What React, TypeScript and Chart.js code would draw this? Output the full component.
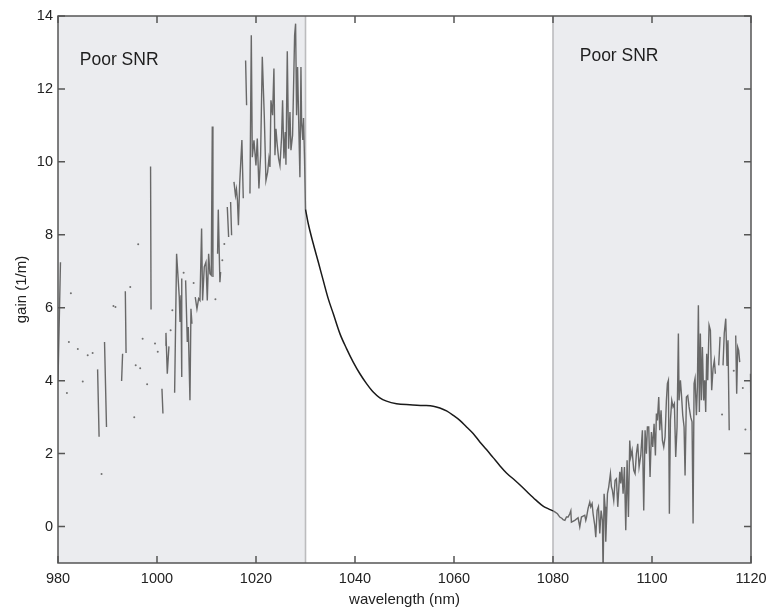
import React, { useEffect, useRef } from 'react';
import { Chart, registerables } from 'chart.js';

Chart.register(...registerables);

// ---- axes ----
const xTicks = [980, 1000, 1020, 1040, 1060, 1080, 1100, 1120];
const yTicks = [0, 2, 4, 6, 8, 10, 12, 14];
const xTitle = 'wavelength (nm)';
const yTitle = 'gain (1/m)';

// ---- shaded "Poor SNR" bands ----
const bandRanges: [number, number][] = [[980, 1030], [1080, 1120]];
const bandLabel = 'Poor SNR';
const bandLabelAnchors: [number, number][] = [[984.4, 12.67], [1085.4, 12.77]];

// ---- data: [wavelength nm, gain 1/m]; null = gap ----
const noisyShort: [number, number | null][] = [
  [980.0, 4.0], [980.5, 7.25], [981.0, null], [981.8, 3.66], [982.0, null], [982.2, 5.06], [982.4, null],
  [982.6, 6.4], [983.0, null], [984.0, 4.87], [984.5, null], [985.0, 3.98], [985.5, null], [986.0, 4.7],
  [986.5, null], [987.0, 4.76], [987.5, null], [988.0, 4.31], [988.3, 2.46], [988.5, null], [988.8, 1.44],
  [989.0, null], [989.4, 5.06], [989.8, 2.73], [990.5, null], [991.2, 6.05], [991.4, null], [991.6, 6.02],
  [992.0, null], [992.85, 3.99], [993.05, 4.74], [993.3, null], [993.6, 6.45], [993.75, 4.76], [994.2, null],
  [994.6, 6.57], [995.0, null], [995.4, 3.0], [995.55, null], [995.7, 4.42], [996.0, null], [996.2, 7.74],
  [996.4, null], [996.6, 4.34], [996.8, null], [997.1, 5.15], [997.5, null], [998.0, 3.9], [998.3, null],
  [998.7, 9.87], [998.8, 5.95], [999.2, null], [999.6, 5.02], [999.9, null], [1000.15, 4.79], [1000.5, null],
  [1001.0, 3.78], [1001.2, 3.1], [1001.4, null], [1001.68, 4.97], [1001.81, 5.31], [1002.08, 4.19],
  [1002.41, 4.94], [1002.6, null], [1002.75, 5.38], [1002.9, null], [1003.1, 5.93], [1003.3, null],
  [1003.56, 3.67], [1003.96, 7.48], [1004.5, 6.29], [1004.65, 5.61], [1004.85, 6.34], [1004.95, 4.1],
  [1005.05, 6.8], [1005.2, null], [1005.38, 6.96], [1005.55, null], [1005.78, 6.75], [1006.12, 5.06],
  [1006.32, 5.47], [1006.66, 3.46], [1006.86, 5.97], [1007.06, 5.56], [1007.2, null], [1007.4, 6.68],
  [1007.55, null], [1007.73, 6.29], [1008.07, 5.97], [1008.41, 6.25], [1008.68, 6.2], [1009.01, 8.17],
  [1009.21, 6.2], [1009.55, 7.12], [1009.89, 7.25], [1010.16, 6.2], [1010.43, 7.48], [1010.69, 6.93],
  [1010.96, 6.89], [1011.17, 10.97], [1011.3, 6.84], [1011.5, null], [1011.8, 6.23], [1012.0, null],
  [1012.24, 7.48], [1012.38, 8.69], [1012.71, 6.7], [1012.85, 6.98], [1013.0, null], [1013.2, 7.3],
  [1013.4, null], [1013.6, 7.75], [1013.9, null], [1014.2, 8.76], [1014.47, 7.94], [1014.65, null],
  [1014.87, 8.9], [1015.07, 7.99], [1015.3, null], [1015.55, 9.45], [1015.85, 9.08], [1016.05, 9.25],
  [1016.25, 8.95], [1016.45, 8.26], [1016.7, 9.4], [1017.15, 10.6], [1017.43, 9.0], [1017.65, null],
  [1017.9, 12.78], [1018.1, 11.55], [1018.4, null], [1018.78, 9.13], [1019.05, 13.47], [1019.25, 10.13],
  [1019.59, 10.59], [1019.99, 9.9], [1020.26, 10.64], [1020.59, 9.27], [1020.93, 10.18], [1021.27, 12.88],
  [1021.67, 11.28], [1022.01, 9.49], [1022.35, 9.72], [1022.61, 10.09], [1022.82, 9.86], [1023.02, 11.69],
  [1023.35, 11.28], [1023.62, 12.56], [1023.83, 10.18], [1024.03, 10.91], [1024.3, 10.45], [1024.57, 10.09],
  [1024.84, 9.9], [1025.17, 10.68], [1025.37, 11.69], [1025.64, 10.09], [1025.91, 10.82], [1026.05, 9.92],
  [1026.32, 13.03], [1026.59, 10.36], [1026.86, 11.37], [1027.06, 10.32], [1027.39, 10.73], [1027.8, 13.47],
  [1028.0, 13.79], [1028.2, 11.28], [1028.4, 12.6], [1028.67, 10.82], [1028.87, 9.58], [1029.08, 12.6],
  [1029.21, 11.09], [1029.45, 10.6], [1029.6, 11.2], [1029.8, 10.1], [1030.0, 8.7],
];

const cleanGain: [number, number][] = [
  [1030.0, 8.7], [1030.55, 8.31], [1031.56, 7.76], [1032.57, 7.26], [1033.58, 6.75], [1034.59, 6.25],
  [1035.6, 5.84], [1036.95, 5.29], [1038.29, 4.88], [1039.64, 4.51], [1040.99, 4.19], [1042.33, 3.92],
  [1043.68, 3.69], [1045.02, 3.53], [1046.37, 3.44], [1048.39, 3.37], [1051.08, 3.34], [1053.77, 3.32],
  [1055.8, 3.3], [1057.14, 3.25], [1058.49, 3.17], [1059.83, 3.05], [1061.18, 2.91], [1062.53, 2.73],
  [1063.87, 2.55], [1065.22, 2.32], [1066.56, 2.11], [1067.91, 1.89], [1069.26, 1.67], [1070.6, 1.47],
  [1072.29, 1.27], [1073.5, 1.12], [1075.0, 0.92], [1076.5, 0.73], [1078.0, 0.56], [1079.0, 0.49],
  [1080.0, 0.43],
];

const noisyLong: [number, number | null][] = [
  [1080.0, 0.43], [1080.36, 0.4], [1080.9, 0.35], [1081.37, 0.26], [1081.84, 0.22], [1082.04, 0.19],
  [1082.4, 0.17], [1082.72, 0.26], [1083.05, 0.26], [1083.39, 0.35], [1083.6, 0.43], [1083.72, 0.12],
  [1084.4, 0.17], [1085.07, 0.24], [1085.41, -0.01], [1085.74, 0.26], [1086.42, 0.31], [1086.62, 0.17],
  [1086.75, 0.24], [1087.09, 0.5], [1087.43, 0.67], [1087.63, 0.54], [1087.9, 0.63], [1088.1, 0.35],
  [1088.44, 0.03], [1088.64, -0.29], [1088.91, 0.44], [1089.18, 0.54], [1089.45, -0.19], [1089.72, 0.44],
  [1089.98, 0.17], [1090.12, -1.3], [1090.32, 0.9], [1090.52, 0.54], [1090.66, -0.42], [1091.0, 0.9],
  [1091.26, 1.09], [1091.6, 1.45], [1091.8, 1.09], [1092.0, 0.99], [1092.27, 0.72], [1092.54, 1.27],
  [1092.81, 1.31], [1093.08, 0.54], [1093.49, 1.5], [1093.69, 1.18], [1093.89, 1.63], [1094.16, 0.9],
  [1094.43, 1.63], [1094.7, -0.1], [1094.97, 1.82], [1095.24, 0.26], [1095.5, 2.36], [1095.71, 1.91],
  [1095.98, 2.09], [1096.31, 1.54], [1096.58, 1.45], [1096.85, 2.0], [1097.12, 2.27], [1097.39, 1.63],
  [1097.73, 1.95], [1098.06, 2.64], [1098.33, 0.44], [1098.6, 2.64], [1098.87, 2.0], [1099.07, 2.73],
  [1099.34, 2.73], [1099.61, 1.36], [1099.88, 2.59], [1100.15, 2.18], [1100.42, 2.82], [1100.69, 1.95],
  [1100.89, 3.1], [1101.09, 2.91], [1101.36, 3.55], [1101.56, 2.64], [1101.83, 3.19], [1102.1, 2.36],
  [1102.37, 2.18], [1102.64, 2.46], [1102.91, 3.46], [1103.11, 3.92], [1103.31, 4.01], [1103.51, 0.35],
  [1103.72, 2.91], [1103.99, 3.46], [1104.25, 3.28], [1104.52, 3.37], [1104.79, 1.91], [1105.06, 2.73],
  [1105.33, 5.29], [1105.47, 3.46], [1105.74, 4.01], [1105.94, 3.64], [1106.21, 3.05], [1106.48, 2.73],
  [1106.68, 1.4], [1106.95, 3.55], [1107.22, 3.59], [1107.49, 3.28], [1107.82, 3.0], [1108.09, 2.87],
  [1108.3, 0.08], [1108.5, 3.92], [1108.7, 4.06], [1108.97, 3.05], [1109.17, 3.83], [1109.37, 6.07],
  [1109.57, 3.14], [1109.77, 5.29], [1109.98, 3.46], [1110.18, 4.92], [1110.45, 3.46], [1110.65, 4.01],
  [1110.85, 3.14], [1111.05, 4.74], [1111.26, 4.01], [1111.53, 5.52], [1111.8, 5.38], [1112.06, 3.74],
  [1112.33, 4.33], [1112.6, 4.56], [1112.8, 4.19], [1113.1, null], [1113.48, 4.42], [1113.75, 5.2],
  [1113.95, null], [1114.15, 3.07], [1114.25, null], [1114.35, 4.42], [1114.6, 5.3], [1114.9, 5.7],
  [1115.15, 4.4], [1115.35, 5.11], [1115.6, 2.64], [1116.0, null], [1116.51, 4.27], [1116.7, null],
  [1116.91, 5.24], [1117.11, 3.64], [1117.31, 4.92], [1117.51, 4.83], [1117.72, 4.51], [1118.0, null],
  [1118.35, 3.8], [1118.6, null], [1118.87, 2.66], [1119.4, null], [1119.9, 4.19], [1120.0, 2.64],
];

const FONT = "'Liberation Sans', Arial, Helvetica, sans-serif";

export default function App() {
  const ref = useRef<HTMLCanvasElement>(null);

  useEffect(() => {
    if (!ref.current) return;
    const toPts = (arr: [number, number | null][]) => arr.map(([x, y]) => ({ x, y }));

    const isolatedRadius = (ctx: any) => {
      const d = ctx.dataset.data;
      const i = ctx.dataIndex;
      if (d[i] == null || d[i].y == null) return 0;
      const p = d[i - 1];
      const n = d[i + 1];
      const pNull = !p || p.y == null;
      const nNull = !n || n.y == null;
      return pNull && nNull ? 1 : 0;
    };

    const decor = {
      id: 'decor',
      beforeDatasetsDraw(chart: any) {
        const { ctx, chartArea: a, scales } = chart;
        const xs = scales.x;
        ctx.save();
        ctx.fillStyle = '#ebecef';
        for (const [s, e] of bandRanges) {
          const x0 = xs.getPixelForValue(s);
          const x1 = xs.getPixelForValue(e);
          ctx.fillRect(x0, a.top, x1 - x0, a.bottom - a.top);
        }
        ctx.strokeStyle = '#bcbcbe';
        ctx.lineWidth = 1.6;
        const edges = [bandRanges[0][1], bandRanges[1][0]];
        for (const v of edges) {
          const px = xs.getPixelForValue(v);
          ctx.beginPath();
          ctx.moveTo(px, a.top);
          ctx.lineTo(px, a.bottom);
          ctx.stroke();
        }
        ctx.restore();
      },
      afterDraw(chart: any) {
        const { ctx, chartArea: a, scales } = chart;
        const xs = scales.x;
        const ys = scales.y;
        ctx.save();
        ctx.fillStyle = '#1e1e1e';
        ctx.font = `17.5px ${FONT}`;
        ctx.textAlign = 'left';
        ctx.textBaseline = 'alphabetic';
        for (const [vx, vy] of bandLabelAnchors) {
          ctx.fillText(bandLabel, xs.getPixelForValue(vx), ys.getPixelForValue(vy));
        }
        ctx.strokeStyle = '#555555';
        ctx.lineWidth = 1.5;
        ctx.strokeRect(a.left, a.top, a.right - a.left, a.bottom - a.top);
        const tl = 7;
        ctx.beginPath();
        for (const v of xTicks) {
          const px = xs.getPixelForValue(v);
          ctx.moveTo(px, a.bottom);
          ctx.lineTo(px, a.bottom - tl);
          ctx.moveTo(px, a.top);
          ctx.lineTo(px, a.top + tl);
        }
        for (const v of yTicks) {
          const py = ys.getPixelForValue(v);
          ctx.moveTo(a.left, py);
          ctx.lineTo(a.left + tl, py);
          ctx.moveTo(a.right, py);
          ctx.lineTo(a.right - tl, py);
        }
        ctx.stroke();
        ctx.restore();
      },
    };

    const chart = new Chart(ref.current, {
      type: 'line',
      data: {
        datasets: [
          {
            data: toPts(cleanGain),
            borderColor: '#1a1a1a',
            borderWidth: 1.5,
            pointRadius: 0,
            cubicInterpolationMode: 'monotone',
            order: 0,
          },
          {
            data: toPts(noisyShort),
            borderColor: '#686868',
            borderWidth: 1.4,
            spanGaps: false,
            pointRadius: isolatedRadius,
            pointBackgroundColor: '#707070',
            pointBorderWidth: 0,
            order: 1,
          },
          {
            data: toPts(noisyLong),
            borderColor: '#686868',
            borderWidth: 1.4,
            spanGaps: false,
            pointRadius: isolatedRadius,
            pointBackgroundColor: '#707070',
            pointBorderWidth: 0,
            order: 1,
          },
        ] as any,
      },
      options: {
        animation: false,
        responsive: false,
        maintainAspectRatio: false,
        events: [],
        layout: { padding: { top: 16, right: 19, left: 0, bottom: 0 } },
        plugins: { legend: { display: false }, tooltip: { enabled: false } },
        scales: {
          x: {
            type: 'linear',
            min: 980,
            max: 1120,
            afterBuildTicks: (s: any) => { s.ticks = xTicks.map((v) => ({ value: v })); },
            afterFit: (s: any) => { s.height = 49; s.paddingLeft = 0; s.paddingRight = 0; },
            grid: { display: false, drawTicks: false },
            border: { display: false },
            ticks: {
              padding: 7, color: '#222', font: { family: FONT, size: 14.5 }, maxRotation: 0, autoSkip: false,
              callback: (v: any) => String(v),
            },
            title: { display: true, text: xTitle, color: '#222', font: { family: FONT, size: 15 }, padding: { top: 0, bottom: 3 } },
          },
          y: {
            type: 'linear',
            min: -1,
            max: 14,
            afterBuildTicks: (s: any) => { s.ticks = yTicks.map((v) => ({ value: v })); },
            afterFit: (s: any) => { s.width = 58; s.paddingTop = 0; s.paddingBottom = 0; },
            grid: { display: false, drawTicks: false },
            border: { display: false },
            ticks: { padding: 5, color: '#222', font: { family: FONT, size: 14.5 }, callback: (v: any) => String(v) },
            title: { display: true, text: yTitle, color: '#222', font: { family: FONT, size: 15 }, padding: { top: 13, bottom: 0 } },
          },
        },
      } as any,
      plugins: [decor],
    });
    return () => chart.destroy();
  }, []);

  return (
    <div style={{ position: 'fixed', left: 0, top: 0, width: 770, height: 612, background: '#fff' }}>
      <canvas ref={ref} width={770} height={612} style={{ display: 'block', width: 770, height: 612 }} />
    </div>
  );
}
